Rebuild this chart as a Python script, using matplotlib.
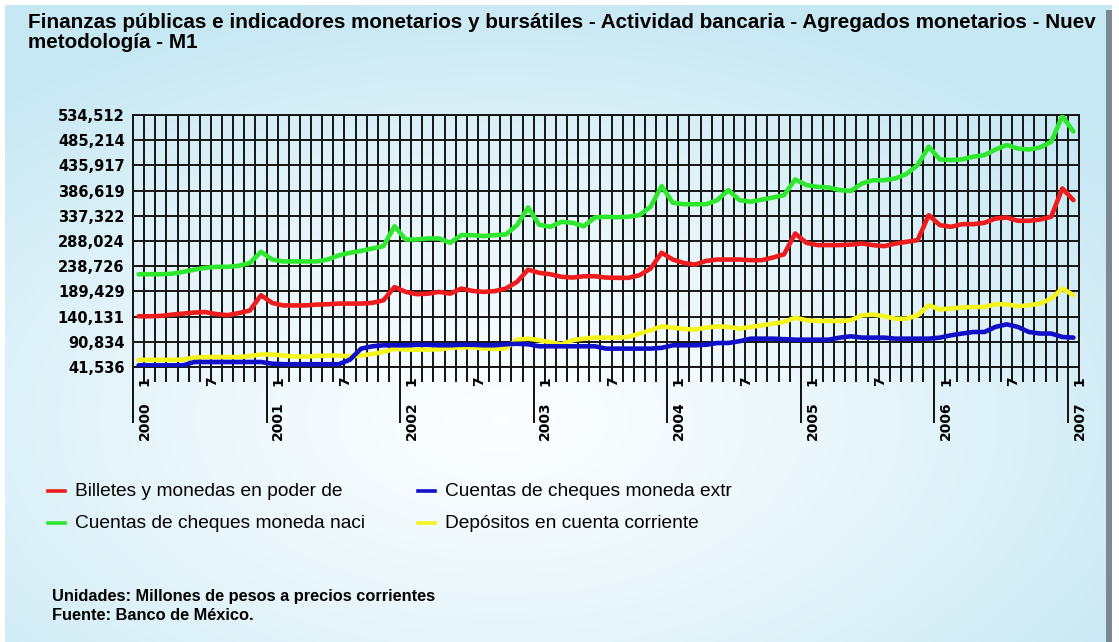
import numpy as np
import matplotlib
matplotlib.use("Agg")
import matplotlib.pyplot as plt
from matplotlib.lines import Line2D
from matplotlib import font_manager
import matplotlib.transforms as mtransforms

# ---------------- data (millones de pesos) ----------------
months = list(range(85))  # 2000-01 ... 2007-01
billetes = [140.8, 140.8, 141.5, 144, 146, 148, 149, 145, 143, 147, 152, 182,
            167, 162, 162, 162, 163.6, 164.3, 165.6, 165.6, 165.6, 167, 172, 198,
            188.5, 184, 185, 188.5, 185, 195, 190.4, 188.5, 190, 195, 208, 232,
            225.7, 223, 218, 216.5, 219, 219, 216.5, 216, 216, 221, 234, 265,
            251.8, 245, 242, 249, 251.8, 251.8, 251.8, 250.5, 250.5, 255.7, 262, 302.7,
            284.5, 280, 280, 280, 281, 283.2, 280, 278, 283, 286.4, 289.7, 338.6,
            319, 315.8, 321, 321, 323.6, 332, 334, 327.6, 327.6, 330, 335.4, 390.9,
            368]
cheques_nac = [223, 223, 223, 224, 227.6, 232, 235.5, 237.5, 237.5, 239.5, 245, 267,
               251.8, 248, 248, 248, 248, 251.8, 260, 265, 268.7, 273.4, 278, 317,
               291, 291, 293, 293, 284.5, 299.5, 299.5, 297.5, 299.5, 300.8, 319, 353.7,
               319.7, 315.8, 325.6, 323.6, 317, 334, 335.4, 334.5, 335.4, 338.7, 355, 395.5,
               362.8, 360, 360, 360, 368, 387.6, 368, 364.8, 369, 373, 377.8, 408.5,
               397.4, 394, 392.8, 387.6, 386, 400.6, 407, 407, 410.5, 419, 436.6, 472.5,
               447.7, 446.4, 447.7, 453, 456, 467, 475.8, 469, 467, 471, 482, 532.6,
               502]
cheques_ext = [44.8, 44.8, 44.8, 44.8, 44.8, 51.3, 51.3, 51.3, 51.3, 51.3, 51.3, 51.3,
               48, 47, 47, 47, 47, 47, 47, 56, 77.5, 82, 84, 84,
               84, 85, 85, 84, 84, 85, 85, 84, 84, 86, 87, 86,
               82, 82, 82, 82, 82, 82, 77.5, 77.5, 77.5, 77.5, 77.5, 79,
               84, 84, 84, 85, 88.5, 88.5, 92, 97, 97, 97, 96, 95,
               95, 95, 95, 99, 101.6, 99, 99, 99, 97, 97, 97, 97,
               99, 103.6, 107, 110, 110, 120, 125, 120, 110, 107, 107, 100.3,
               99]
depositos = [55.5, 55.5, 55.5, 55.5, 56, 60, 61, 61, 61, 61, 63, 66,
             66, 64, 62, 62, 63, 64, 64, 62, 64, 67, 71, 77,
             75.5, 75.5, 75.5, 76, 79, 80, 80, 78, 77, 78, 95, 97,
             94, 90, 86, 94, 97, 99, 99, 99, 100.3, 106.8, 113.4, 121.2,
             118.6, 116, 114.7, 118.6, 121, 120, 116.6, 120, 123, 126.4, 129.7, 138,
             133, 131.6, 131.6, 131.6, 133, 142.7, 144, 140.8, 136, 136, 142.7, 162.3,
             154, 156, 158, 159, 159, 164.3, 164.3, 160.4, 162.3, 165.6, 175.4, 195,
             182]

series_values = [billetes, cheques_nac, cheques_ext, depositos]
series_labels = ["Billetes y monedas en poder de", "Cuentas de cheques moneda naci",
                 "Cuentas de cheques moneda extr", "Depósitos en cuenta corriente"]
series_colors = ["#ee1c1c", "#2ee82e", "#1010c8", "#f5f51e"]

y_ticks = [41536, 90834, 140131, 189429, 238726, 288024, 337322, 386619,
           435917, 485214, 534512]
years = ["2000", "2001", "2002", "2003", "2004", "2005", "2006", "2007"]
month_labels = ["1", "7"]

title_lines = ["Finanzas públicas e indicadores monetarios y bursátiles - Actividad bancaria - Agregados monetarios - Nuev",
               "metodología - M1"]
footer_lines = ["Unidades: Millones de pesos a precios corrientes", "Fuente: Banco de México."]

# ---------------- fonts ----------------
names = {f.name for f in font_manager.fontManager.ttflist}
sans = "Liberation Sans" if "Liberation Sans" in names else "DejaVu Sans"

W, H = 1119, 642
fig = plt.figure(figsize=(W / 100, H / 100), dpi=100)
fig.patch.set_facecolor("white")

# background gradient panel
bg = fig.add_axes([0, 0, 1, 1], zorder=-10)
yy, xx = np.mgrid[0:H, 0:W]
d = np.sqrt(((xx - 500) / 750.0) ** 2 + ((yy - 420) / 430.0) ** 2)
t = np.clip(d, 0, 1) ** 1.3
c_in = np.array([0.985, 0.995, 1.0])
c_out = np.array([0.78, 0.91, 0.955])
img = c_in[None, None, :] * (1 - t[..., None]) + c_out[None, None, :] * t[..., None]
bg.imshow(img, extent=[0, W, H, 0], aspect="auto", interpolation="bilinear")
bg.set_xlim(0, W)
bg.set_ylim(H, 0)
bg.add_patch(plt.Rectangle((0, 0), W, 5, color="white", lw=0))
bg.add_patch(plt.Rectangle((0, 0), 5, H, color="white", lw=0))
bg.add_patch(plt.Rectangle((1106, 10), 6, H, color="#7a8a90", lw=0))
bg.add_patch(plt.Rectangle((1112, 0), 7, H, color="white", lw=0))
bg.axis("off")

# main plot
ax_l, ax_r, ax_t, ax_b = 133, 1079, 115, 367
ax = fig.add_axes([ax_l / W, 1 - ax_b / H, (ax_r - ax_l) / W, (ax_b - ax_t) / H])
ax.set_facecolor("none")
x = np.array(months) + 0.5
for vals, col in zip(series_values, series_colors):
    ax.plot(x, np.array(vals) * 1000, color=col, lw=3.3, solid_joinstyle="round",
            solid_capstyle="round", zorder=3)
ax.lines[2].set_zorder(4)

ax.set_xlim(0, 85)
ax.set_ylim(y_ticks[0], y_ticks[-1])
ax.set_yticks(y_ticks)
ax.set_yticklabels([f"{v:,}" for v in y_ticks])
ax.set_xticks(np.arange(0, 85, 12))
ax.set_xticks(np.arange(0, 86, 1), minor=True)
ax.set_xticklabels([])
ax.tick_params(axis="x", which="major", length=40, width=1.4, direction="out", color="#111111")
ax.tick_params(axis="x", which="minor", length=11, width=1.4, direction="out", color="#111111")
ax.tick_params(axis="y", length=0, pad=6)
for lab in ax.get_yticklabels():
    lab.set_fontfamily("DejaVu Sans")
    lab.set_fontweight("bold")
    lab.set_fontsize(10.5)
ax.grid(True, which="minor", axis="x", color="#151515", lw=1.4)
ax.grid(True, which="major", axis="both", color="#151515", lw=1.4)
ax.set_axisbelow(True)
for s in ax.spines.values():
    s.set_color("#151515")
    s.set_linewidth(1.4)

trans = mtransforms.blended_transform_factory(ax.transData, ax.transAxes)
ph = ax_b - ax_t
for k, yr in enumerate(years):
    base = 12 * k
    ax.text(base + 1.05, -(421 - ax_b) / ph, yr, rotation=90, ha="center", va="center",
            transform=trans, fontsize=10, fontweight="bold", family="DejaVu Sans", clip_on=False)
    ax.text(base + 1.05, -(381 - ax_b) / ph, month_labels[0], rotation=90, ha="center", va="center",
            transform=trans, fontsize=10, fontweight="bold", family="DejaVu Sans", clip_on=False)
    if k < len(years) - 1:
        ax.text(base + 7.1, -(381 - ax_b) / ph, month_labels[1], rotation=90, ha="center", va="center",
                transform=trans, fontsize=10, fontweight="bold", family="DejaVu Sans", clip_on=False)

# title
fig.text(28 / W, 1 - 22 / H, title_lines[0], ha="left", va="center", fontsize=14.9,
         fontweight="bold", family=sans)
fig.text(28 / W, 1 - 42 / H, title_lines[1], ha="left", va="center", fontsize=14.9,
         fontweight="bold", family=sans)

# legend (manual)
leg_pos = [(48, 491), (48, 523), (418, 491), (418, 523)]
for (lx, ly), lab, col in zip(leg_pos, series_labels, series_colors):
    fig.add_artist(Line2D([lx / W, (lx + 17) / W], [1 - ly / H, 1 - ly / H], color=col, lw=2.6))
    fig.text((lx + 27) / W, 1 - ly / H, lab, ha="left", va="center", fontsize=13.8, family=sans)

# footer
fig.text(52 / W, 1 - 596 / H, footer_lines[0], ha="left", va="center", fontsize=11.8,
         fontweight="bold", family=sans)
fig.text(52 / W, 1 - 615 / H, footer_lines[1], ha="left", va="center", fontsize=11.8,
         fontweight="bold", family=sans)

fig.savefig("out.png", dpi=100)
